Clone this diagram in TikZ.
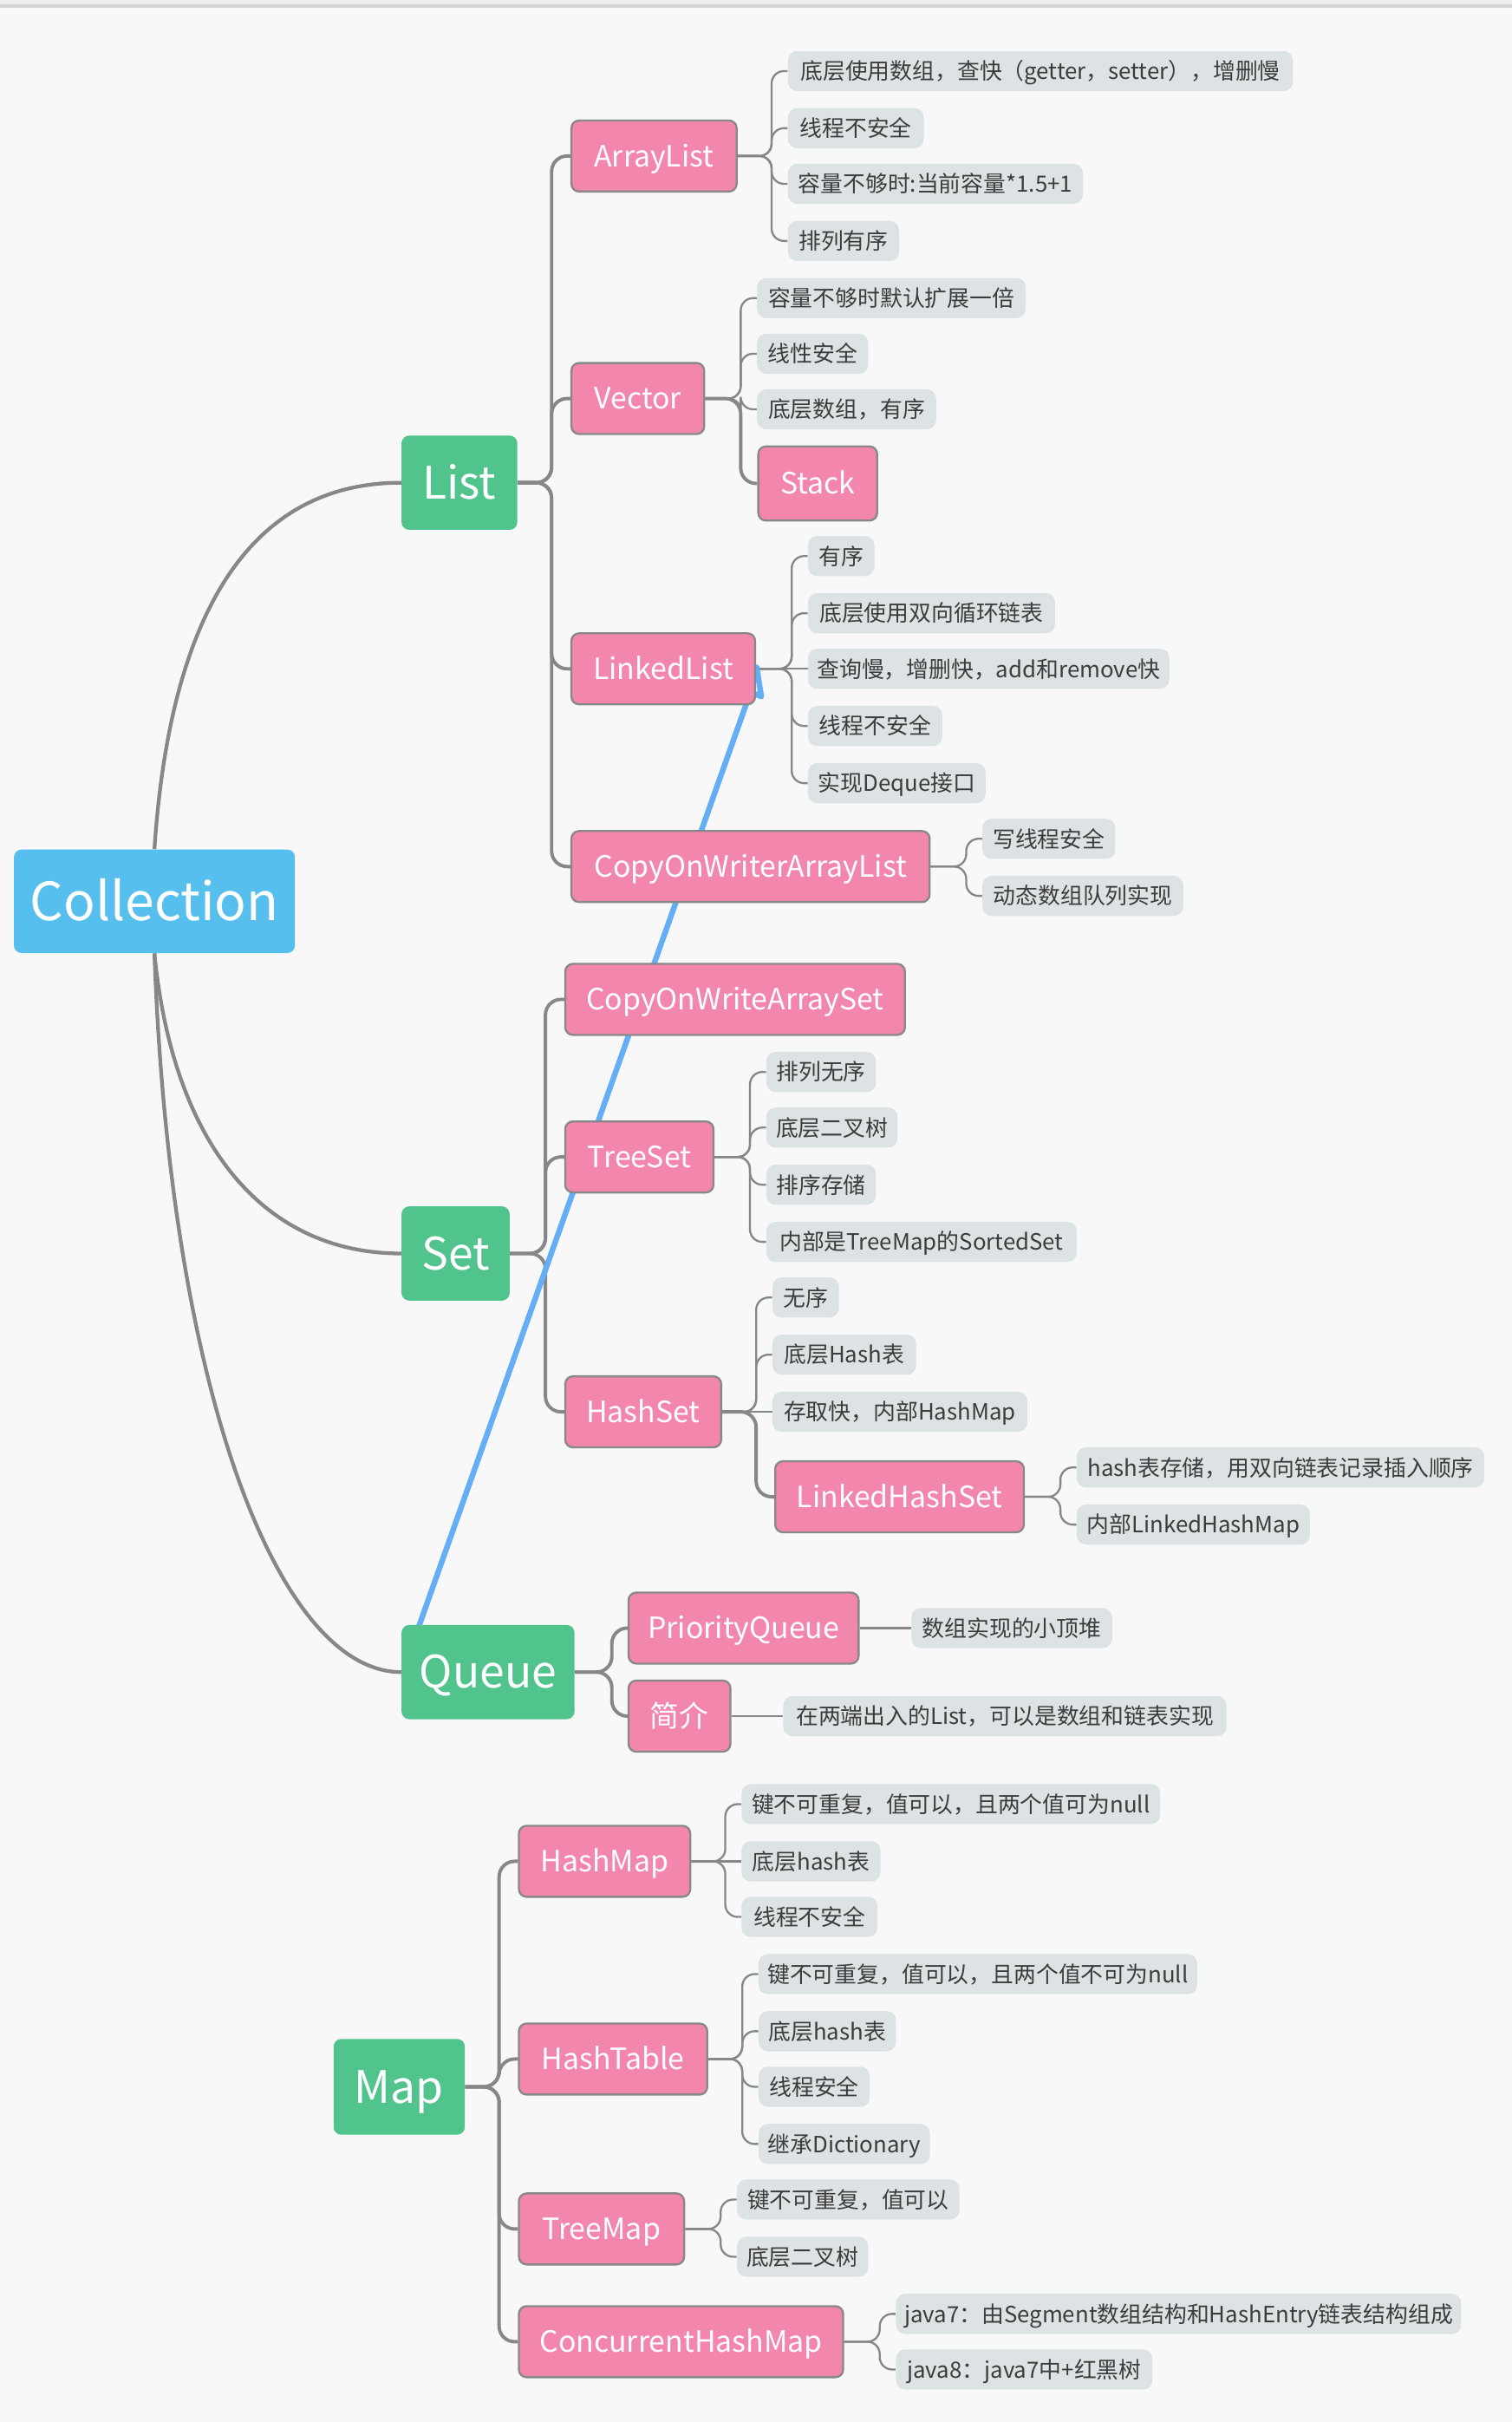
\documentclass[tikz,border=0pt]{standalone}
\usepackage{fontspec}
\setmainfont{Noto Sans CJK SC}
\usetikzlibrary{calc}
\definecolor{bg0}{HTML}{F8F8F8}
\definecolor{bar0}{HTML}{D4D4D4}
\definecolor{top0}{HTML}{EFEFEF}
\definecolor{pink0}{HTML}{F286AD}
\definecolor{green0}{HTML}{50C48C}
\definecolor{blue0}{HTML}{56BFED}
\definecolor{lab0}{HTML}{DDE3E5}
\definecolor{txt0}{HTML}{3C3C3C}
\definecolor{bord0}{HTML}{888888}
\definecolor{line0}{HTML}{878787}
\definecolor{bl0}{HTML}{64AEF5}
\pgfdeclarelayer{backlayer}
\pgfdeclarelayer{bglayer}
\pgfsetlayers{backlayer,bglayer,main}
\tikzset{
  rootbox/.style={rounded corners=5, text=white, inner sep=0, minimum height=61,
    font=\fontsize{29}{32}\selectfont, text height=23, text depth=2},
  grn/.style={rootbox, fill=green0},
  pk/.style={draw=bord0, line width=1.3, fill=pink0, rounded corners=5, text=white,
    minimum height=46, inner sep=0, font=\fontsize{19}{22}\selectfont,
    text height=15.5, text depth=1.7},
  lb/.style={fill=lab0, rounded corners=6, text=txt0, minimum height=26, inner sep=0,
    anchor=west, font=\fontsize{14.5}{16}\selectfont, text height=12.5, text depth=1.5},
  conn/.style={draw=line0, line width=1.3, rounded corners=8},
  connb/.style={draw=line0, line width=2.2, rounded corners=10},
  connc/.style={draw=line0, line width=2.4},
}
\newcommand\br[4][conn]{\draw[#1] (#2.east) -- ++(#4,0) |- (#3.west);}
\newcommand\st[3][conn]{\draw[#1] (#2.east) -- (#3.west);}
\begin{document}
\begin{tikzpicture}[x=1pt,y=-1pt]
\useasboundingbox (0,0) rectangle (979,1568);
\begin{pgfonlayer}{backlayer}
\fill[bg0] (0,0) rectangle (979,1568);
\fill[top0] (0,0) rectangle (979,3);
\fill[bar0] (0,3) rectangle (979,5);
\end{pgfonlayer}

% roots
\node[rootbox, fill=blue0, minimum width=182, minimum height=67,
  font=\fontsize{34}{38}\selectfont, text height=27, text depth=2.5] (coll) at (100,583.5) {Collection};
\node[grn, minimum width=75] (list) at (297.5,312.5) {List};
\node[grn, minimum width=70] (set) at (295,811.5) {Set};
\node[grn, minimum width=112] (queue) at (316,1082.5) {Queue};
\node[grn, minimum width=85, minimum height=62] (map) at (258.5,1351) {Map};

% level 2
\node[pk, minimum width=107] (al) at (423.5,101) {ArrayList};
\node[pk, minimum width=86] (vec) at (413,258) {Vector};
\node[pk, minimum width=77, minimum height=48] (stk) at (529.5,313) {Stack};
\node[pk, minimum width=119] (ll) at (429.5,433) {LinkedList};
\node[pk, minimum width=232] (cowal) at (486,561) {CopyOnWriterArrayList};
\node[pk, minimum width=220] (cowas) at (476,647) {CopyOnWriteArraySet};
\node[pk, minimum width=96] (ts) at (414,749) {TreeSet};
\node[pk, minimum width=101] (hs) at (416.5,914) {HashSet};
\node[pk, minimum width=161] (lhs) at (582.5,969) {LinkedHashSet};
\node[pk, minimum width=149] (pq) at (481.5,1054) {PriorityQueue};
\node[pk, minimum width=66] (jj) at (440,1111) {简介};
\node[pk, minimum width=111] (hm) at (391.5,1205) {HashMap};
\node[pk, minimum width=122] (ht) at (397,1333) {HashTable};
\node[pk, minimum width=107] (tm) at (389.5,1443) {TreeMap};
\node[pk, minimum width=210] (chm) at (441,1516) {ConcurrentHashMap};

% leaves
\node[lb, minimum width=327] (a1) at (510,46) {底层使用数组，查快（getter，setter），增删慢};
\node[lb, minimum width=88] (a2) at (510,83) {线程不安全};
\node[lb, minimum width=191] (a3) at (510,119) {容量不够时:当前容量*1.5+1};
\node[lb, minimum width=72] (a4) at (510,156) {排列有序};

\node[lb, minimum width=174] (v1) at (490,193) {容量不够时默认扩展一倍};
\node[lb, minimum width=72] (v2) at (490,229) {线性安全};
\node[lb, minimum width=116] (v3) at (490,265) {底层数组，有序};

\node[lb, minimum width=43] (l1) at (523,360) {有序};
\node[lb, minimum width=160] (l2) at (523,397) {底层使用双向循环链表};
\node[lb, minimum width=234] (l3) at (523,433) {查询慢，增删快，add和remove快};
\node[lb, minimum width=87] (l4) at (523,470) {线程不安全};
\node[lb, minimum width=115] (l5) at (523,507) {实现Deque接口};

\node[lb, minimum width=86] (c1) at (636,543) {写线程安全};
\node[lb, minimum width=130] (c2) at (636,580) {动态数组队列实现};

\node[lb, minimum width=71] (t1) at (496,694) {排列无序};
\node[lb, minimum width=85] (t2) at (496,730) {底层二叉树};
\node[lb, minimum width=71] (t3) at (496,767) {排序存储};
\node[lb, minimum width=201] (t4) at (496,804) {内部是TreeMap的SortedSet};

\node[lb, minimum width=43] (h1) at (500,840) {无序};
\node[lb, minimum width=93] (h2) at (500,877) {底层Hash表};
\node[lb, minimum width=165] (h3) at (500,914) {存取快，内部HashMap};

\node[lb, minimum width=264] (k1) at (697,950) {hash表存储，用双向链表记录插入顺序};
\node[lb, minimum width=151] (k2) at (697,987) {内部LinkedHashMap};

\node[lb, minimum width=130] (q1) at (590,1054) {数组实现的小顶堆};
\node[lb, minimum width=287] (q2) at (507,1111) {在两端出入的List，可以是数组和链表实现};

\node[lb, minimum width=271] (m1) at (480,1168) {键不可重复，值可以，且两个值可为null};
\node[lb, minimum width=90] (m2) at (480,1205) {底层hash表};
\node[lb, minimum width=88] (m3) at (480,1241) {线程不安全};

\node[lb, minimum width=284] (n1) at (491,1278) {键不可重复，值可以，且两个值不可为null};
\node[lb, minimum width=89] (n2) at (491,1315) {底层hash表};
\node[lb, minimum width=72] (n3) at (491,1351) {线程安全};
\node[lb, minimum width=111] (n4) at (491,1388) {继承Dictionary};

\node[lb, minimum width=144] (r1) at (477,1424) {键不可重复，值可以};
\node[lb, minimum width=85] (r2) at (477,1461) {底层二叉树};

\node[lb, minimum width=366] (s1) at (580,1498) {java7：由Segment数组结构和HashEntry链表结构组成};
\node[lb, minimum width=166] (s2) at (580,1534) {java8：java7中+红黑树};

\begin{pgfonlayer}{bglayer}
% root curves
\draw[connc] (coll.north) .. controls (110,400) and (160,312.5) .. (list.west);
\draw[connc] (coll.south) .. controls (112,740) and (170,811.5) .. (set.west);
\draw[connc] (coll.south) .. controls (110,900) and (180,1082.5) .. (queue.west);
% level 1
\br[connb]{list}{al}{22}\br[connb]{list}{vec}{22}\br[connb]{list}{ll}{22}\br[connb]{list}{cowal}{22}
\br[connb]{set}{cowas}{23}\br[connb]{set}{ts}{23}\br[connb]{set}{hs}{23}
\br[connb]{queue}{pq}{24}\br[connb]{queue}{jj}{24}
\br[connb]{map}{hm}{22}\br[connb]{map}{ht}{22}\br[connb]{map}{tm}{22}\br[connb]{map}{chm}{22}
% level 2
\br{al}{a1}{22}\br{al}{a2}{22}\br{al}{a3}{22}\br{al}{a4}{22}
\br{vec}{v1}{23}\br{vec}{v2}{23}\br{vec}{v3}{23}\br[connb]{vec}{stk}{23}
\br{ll}{l1}{23}\br{ll}{l2}{23}\st{ll}{l3}\br{ll}{l4}{23}\br{ll}{l5}{23}
\br{cowal}{c1}{23}\br{cowal}{c2}{23}
\br{ts}{t1}{23}\br{ts}{t2}{23}\br{ts}{t3}{23}\br{ts}{t4}{23}
\br{hs}{h1}{22}\br{hs}{h2}{22}\st{hs}{h3}\br[connb]{hs}{lhs}{22}
\br{lhs}{k1}{23}\br{lhs}{k2}{23}
\st{pq}{q1}\st{jj}{q2}
\br{hm}{m1}{22}\st{hm}{m2}\br{hm}{m3}{22}
\br{ht}{n1}{22}\br{ht}{n2}{22}\br{ht}{n3}{22}\br{ht}{n4}{22}
\br{tm}{r1}{23}\br{tm}{r2}{23}
\br{chm}{s1}{23}\br{chm}{s2}{23}
% blue line
\coordinate (bA) at (268,1062);
\coordinate (bB) at (486,448);
\coordinate (bC) at (493,451);
\coordinate (bD) at (490,432);
\draw[bl0, line width=3.6, line cap=round, line join=round] (bA) -- (bB) -- (bC) -- (bD);
\end{pgfonlayer}
\end{tikzpicture}
\end{document}
